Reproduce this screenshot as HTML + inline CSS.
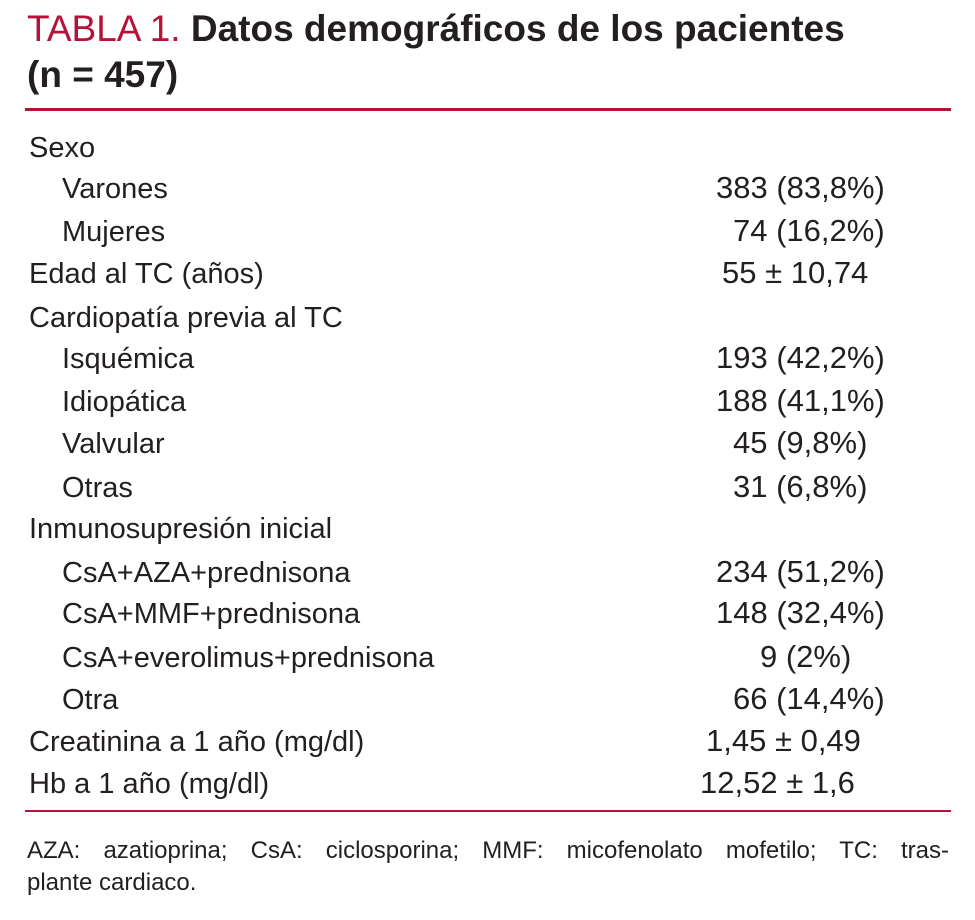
<!DOCTYPE html>
<html><head><meta charset="utf-8">
<style>
html,body{margin:0;padding:0;background:#fff;}
body{width:975px;height:920px;position:relative;overflow:hidden;font-family:"Liberation Sans Narrow","Liberation Sans",sans-serif;color:#231f20;}
.t{position:absolute;white-space:nowrap;}
.title{font-size:37px;font-weight:bold;left:27px;}
.red{color:#b5123a;font-weight:normal;}
.rule{position:absolute;left:25px;width:926px;height:3px;background:#b5123a;}
.row{font-size:29px;line-height:34px;}
.v{font-size:31px;}
.foot{font-size:24px;line-height:30px;left:27px;width:922px;}
</style></head>
<body>
<div class="t title" style="top:8px"><span class="red">TABLA 1.</span> Datos demográficos de los pacientes</div>
<div class="t title" style="top:54px">(n = 457)</div>
<div class="rule" style="top:108px"></div>

<div class="t row" style="left:29px;top:131px">Sexo</div>
<div class="t row" style="left:62px;top:172px">Varones</div>
<div class="t row v" style="left:716px;top:171px">383 (83,8%)</div>
<div class="t row" style="left:62px;top:215px">Mujeres</div>
<div class="t row v" style="left:733px;top:214px">74 (16,2%)</div>
<div class="t row" style="left:29px;top:257px">Edad al TC (años)</div>
<div class="t row v" style="left:722px;top:256px">55 ± 10,74</div>
<div class="t row" style="left:29px;top:301px">Cardiopatía previa al TC</div>
<div class="t row" style="left:62px;top:342px">Isquémica</div>
<div class="t row v" style="left:716px;top:341px">193 (42,2%)</div>
<div class="t row" style="left:62px;top:385px">Idiopática</div>
<div class="t row v" style="left:716px;top:384px">188 (41,1%)</div>
<div class="t row" style="left:62px;top:427px">Valvular</div>
<div class="t row v" style="left:733px;top:426px">45 (9,8%)</div>
<div class="t row" style="left:62px;top:471px">Otras</div>
<div class="t row v" style="left:733px;top:470px">31 (6,8%)</div>
<div class="t row" style="left:29px;top:512px">Inmunosupresión inicial</div>
<div class="t row" style="left:62px;top:556px">CsA+AZA+prednisona</div>
<div class="t row v" style="left:716px;top:555px">234 (51,2%)</div>
<div class="t row" style="left:62px;top:597px">CsA+MMF+prednisona</div>
<div class="t row v" style="left:716px;top:596px">148 (32,4%)</div>
<div class="t row" style="left:62px;top:641px">CsA+everolimus+prednisona</div>
<div class="t row v" style="left:760px;top:640px">9 (2%)</div>
<div class="t row" style="left:62px;top:683px">Otra</div>
<div class="t row v" style="left:733px;top:682px">66 (14,4%)</div>
<div class="t row" style="left:29px;top:725px">Creatinina a 1 año (mg/dl)</div>
<div class="t row v" style="left:706px;top:724px">1,45 ± 0,49</div>
<div class="t row" style="left:29px;top:767px">Hb a 1 año (mg/dl)</div>
<div class="t row v" style="left:700px;top:766px">12,52 ± 1,6</div>

<div class="rule" style="top:810px;height:2px"></div>
<div class="t foot" style="top:836px;text-align:justify;text-align-last:justify">AZA: azatioprina; CsA: ciclosporina; MMF: micofenolato mofetilo; TC: tras-</div>
<div class="t foot" style="top:868px">plante cardiaco.</div>
</body></html>
